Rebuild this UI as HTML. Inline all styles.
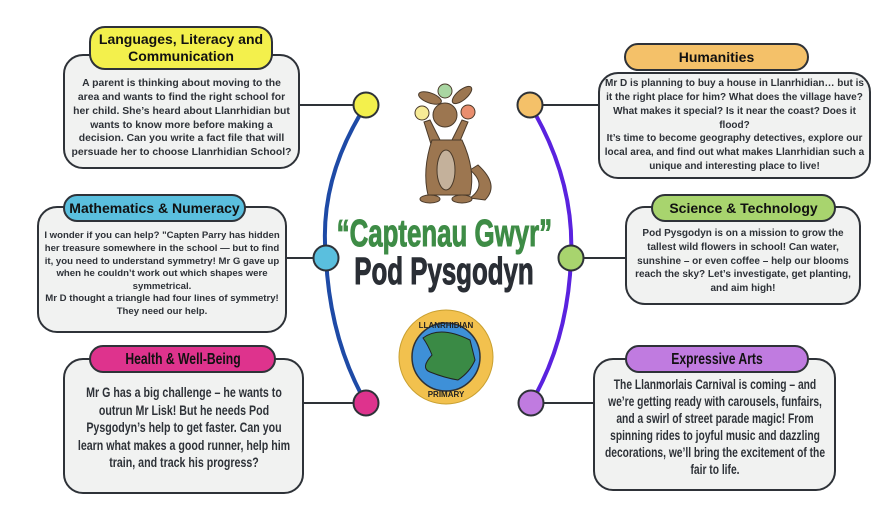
<!DOCTYPE html>
<html><head><meta charset="utf-8"><style>
*{margin:0;padding:0;box-sizing:border-box}
body{width:888px;height:506px;background:#fff;position:relative;overflow:hidden;font-family:"Liberation Sans",sans-serif}
.box{position:absolute;background:#f1f2f1;border:2px solid #2e3238;border-radius:20px;color:#2e3238;font-weight:bold;font-size:10px;line-height:13.6px;text-align:center;display:flex;align-items:center;justify-content:center;padding:0 5px}
.pill{position:absolute;border:2px solid #2e3238;border-radius:16px;color:#111;font-weight:bold;font-size:14px;line-height:17px;text-align:center;display:flex;align-items:center;justify-content:center}
.sq{transform:scaleX(0.76);flex:none}
svg{position:absolute;left:0;top:0}
.t{position:absolute;left:0;width:888px;text-align:center;font-weight:bold}
.t span{display:inline-block;transform:scaleX(0.68);-webkit-text-stroke:1px currentColor}
</style></head><body>
<svg width="888" height="506">
<g stroke="#2e3238" stroke-width="2">
<line x1="299" y1="105" x2="366" y2="105"/>
<line x1="287" y1="258" x2="326" y2="258"/>
<line x1="303" y1="403" x2="366" y2="403"/>
<line x1="530" y1="105" x2="598" y2="105"/>
<line x1="571" y1="258" x2="625" y2="258"/>
<line x1="531" y1="403" x2="593" y2="403"/>
</g>
<path d="M366 105 Q318 180 326 258 Q330 340 366 403" fill="none" stroke="#1e4aa6" stroke-width="4"/>
<path d="M530 105 Q575 180 571 258 Q568 340 531 403" fill="none" stroke="#5a22df" stroke-width="4"/>
<g stroke="#2e3238" stroke-width="2">
<circle cx="366" cy="105" r="12.5" fill="#f3f04c"/>
<circle cx="326" cy="258" r="12.5" fill="#5abfde"/>
<circle cx="366" cy="403" r="12.5" fill="#de338d"/>
<circle cx="530" cy="105" r="12.5" fill="#f4c169"/>
<circle cx="571" cy="258" r="12.5" fill="#a8d46e"/>
<circle cx="531" cy="403" r="12.5" fill="#c07be0"/>
</g>
<g stroke="#4a3a2a" stroke-width="1">
<path d="M478 165 Q500 185 485 200 L470 198 Q488 185 470 170Z" fill="#9c7650"/>
<ellipse cx="430" cy="98" rx="12" ry="5" fill="#9c7650" transform="rotate(20 430 98)"/>
<ellipse cx="462" cy="95" rx="12" ry="5" fill="#9c7650" transform="rotate(-40 462 95)"/>
<ellipse cx="445" cy="115" rx="12" ry="12" fill="#9c7650"/>
<path d="M424 122 L436 160 L452 160 L468 122 L462 120 L452 140 L440 140 L430 120Z" fill="#9c7650"/>
<path d="M432 140 Q422 170 428 195 L470 195 Q476 170 462 140Z" fill="#9c7650"/>
<ellipse cx="446" cy="170" rx="9" ry="20" fill="#c4b19b"/>
<ellipse cx="430" cy="199" rx="10" ry="4" fill="#9c7650"/>
<ellipse cx="462" cy="199" rx="10" ry="4" fill="#9c7650"/>
<circle cx="422" cy="113" r="7" fill="#f7eb96"/>
<circle cx="445" cy="91" r="7" fill="#a9d6a2"/>
<circle cx="468" cy="112" r="7" fill="#e98e6e"/>
</g>
<circle cx="446" cy="357" r="47" fill="#f2c14e" stroke="#c9a030" stroke-width="1"/>
<circle cx="446" cy="357" r="34" fill="#3e90d8" stroke="#2e3238" stroke-width="1.5"/>
<path d="M423 338 Q440 325 470 340 L475 360 Q470 372 458 380 Q445 378 430 372 Q420 368 432 355 Q428 345 423 338Z" fill="#3a8a45" stroke="#222" stroke-width="1"/>
<text x="446" y="328" font-size="8" font-weight="bold" text-anchor="middle" fill="#222" font-family="Liberation Sans">LLANRHIDIAN</text>
<text x="446" y="397" font-size="8" font-weight="bold" text-anchor="middle" fill="#222" font-family="Liberation Sans">PRIMARY</text>
</svg>
<div class="t" style="top:214px;font-size:38px;line-height:40px;color:#3e8c46"><span>“Captenau Gwyr”</span></div>
<div class="t" style="top:252px;font-size:38px;line-height:40px;color:#2a2e35"><span>Pod Pysgodyn</span></div>

<div class="box" style="left:63px;top:54px;width:237px;height:115px;padding-top:14px;font-size:10.4px;line-height:13.8px">A parent is thinking about moving to the area and wants to find the right school for her child. She’s heard about Llanrhidian but wants to know more before making a decision. Can you write a fact file that will persuade her to choose Llanrhidian School?</div>
<div class="pill" style="left:89px;top:26px;width:184px;height:44px;background:#f3f04c">Languages, Literacy and Communication</div>

<div class="box" style="left:37px;top:206px;width:250px;height:127px;padding-top:10px;font-size:9.6px;line-height:12.6px">I wonder if you can help? "Capten Parry has hidden her treasure somewhere in the school — but to find it, you need to understand symmetry! Mr G gave up when he couldn’t work out which shapes were symmetrical.<br>Mr D thought a triangle had four lines of symmetry!<br>They need our help.</div>
<div class="pill" style="left:63px;top:194px;width:183px;height:28px;background:#5abfde">Mathematics &amp; Numeracy</div>

<div class="box" style="left:63px;top:358px;width:241px;height:136px;padding-top:4px"><div class="sq" style="width:280px;font-size:14px;line-height:17.5px">Mr G has a big challenge – he wants to outrun Mr Lisk! But he needs Pod Pysgodyn’s help to get faster. Can you learn what makes a good runner, help him train, and track his progress?</div></div>
<div class="pill" style="left:89px;top:345px;width:187px;height:28px;background:#de338d"><span class="sq" style="display:inline-block;font-size:16px;width:200px">Health &amp; Well-Being</span></div>

<div class="box" style="left:598px;top:72px;width:273px;height:107px;font-size:10px;line-height:13.8px;padding:0 4px">Mr D is planning to buy a house in Llanrhidian… but is it the right place for him? What does the village have? What makes it special? Is it near the coast? Does it flood?<br>It’s time to become geography detectives, explore our local area, and find out what makes Llanrhidian such a unique and interesting place to live!</div>
<div class="pill" style="left:624px;top:43px;width:185px;height:28px;background:#f4c169">Humanities</div>

<div class="box" style="left:625px;top:206px;width:236px;height:99px;padding-top:12px;font-size:10px;line-height:13.8px">Pod Pysgodyn is on a mission to grow the tallest wild flowers in school! Can water, sunshine – or even coffee – help our blooms reach the sky? Let’s investigate, get planting, and aim high!</div>
<div class="pill" style="left:651px;top:194px;width:185px;height:28px;background:#a8d46e">Science &amp; Technology</div>

<div class="box" style="left:593px;top:358px;width:243px;height:133px;padding-top:4px"><div class="sq" style="width:292px;font-size:13.5px;line-height:17px">The Llanmorlais Carnival is coming – and we’re getting ready with carousels, funfairs, and a swirl of street parade magic! From spinning rides to joyful music and dazzling decorations, we’ll bring the excitement of the fair to life.</div></div>
<div class="pill" style="left:625px;top:345px;width:184px;height:28px;background:#c07be0"><span class="sq" style="display:inline-block;font-size:16px;width:200px">Expressive Arts</span></div>
</body></html>
